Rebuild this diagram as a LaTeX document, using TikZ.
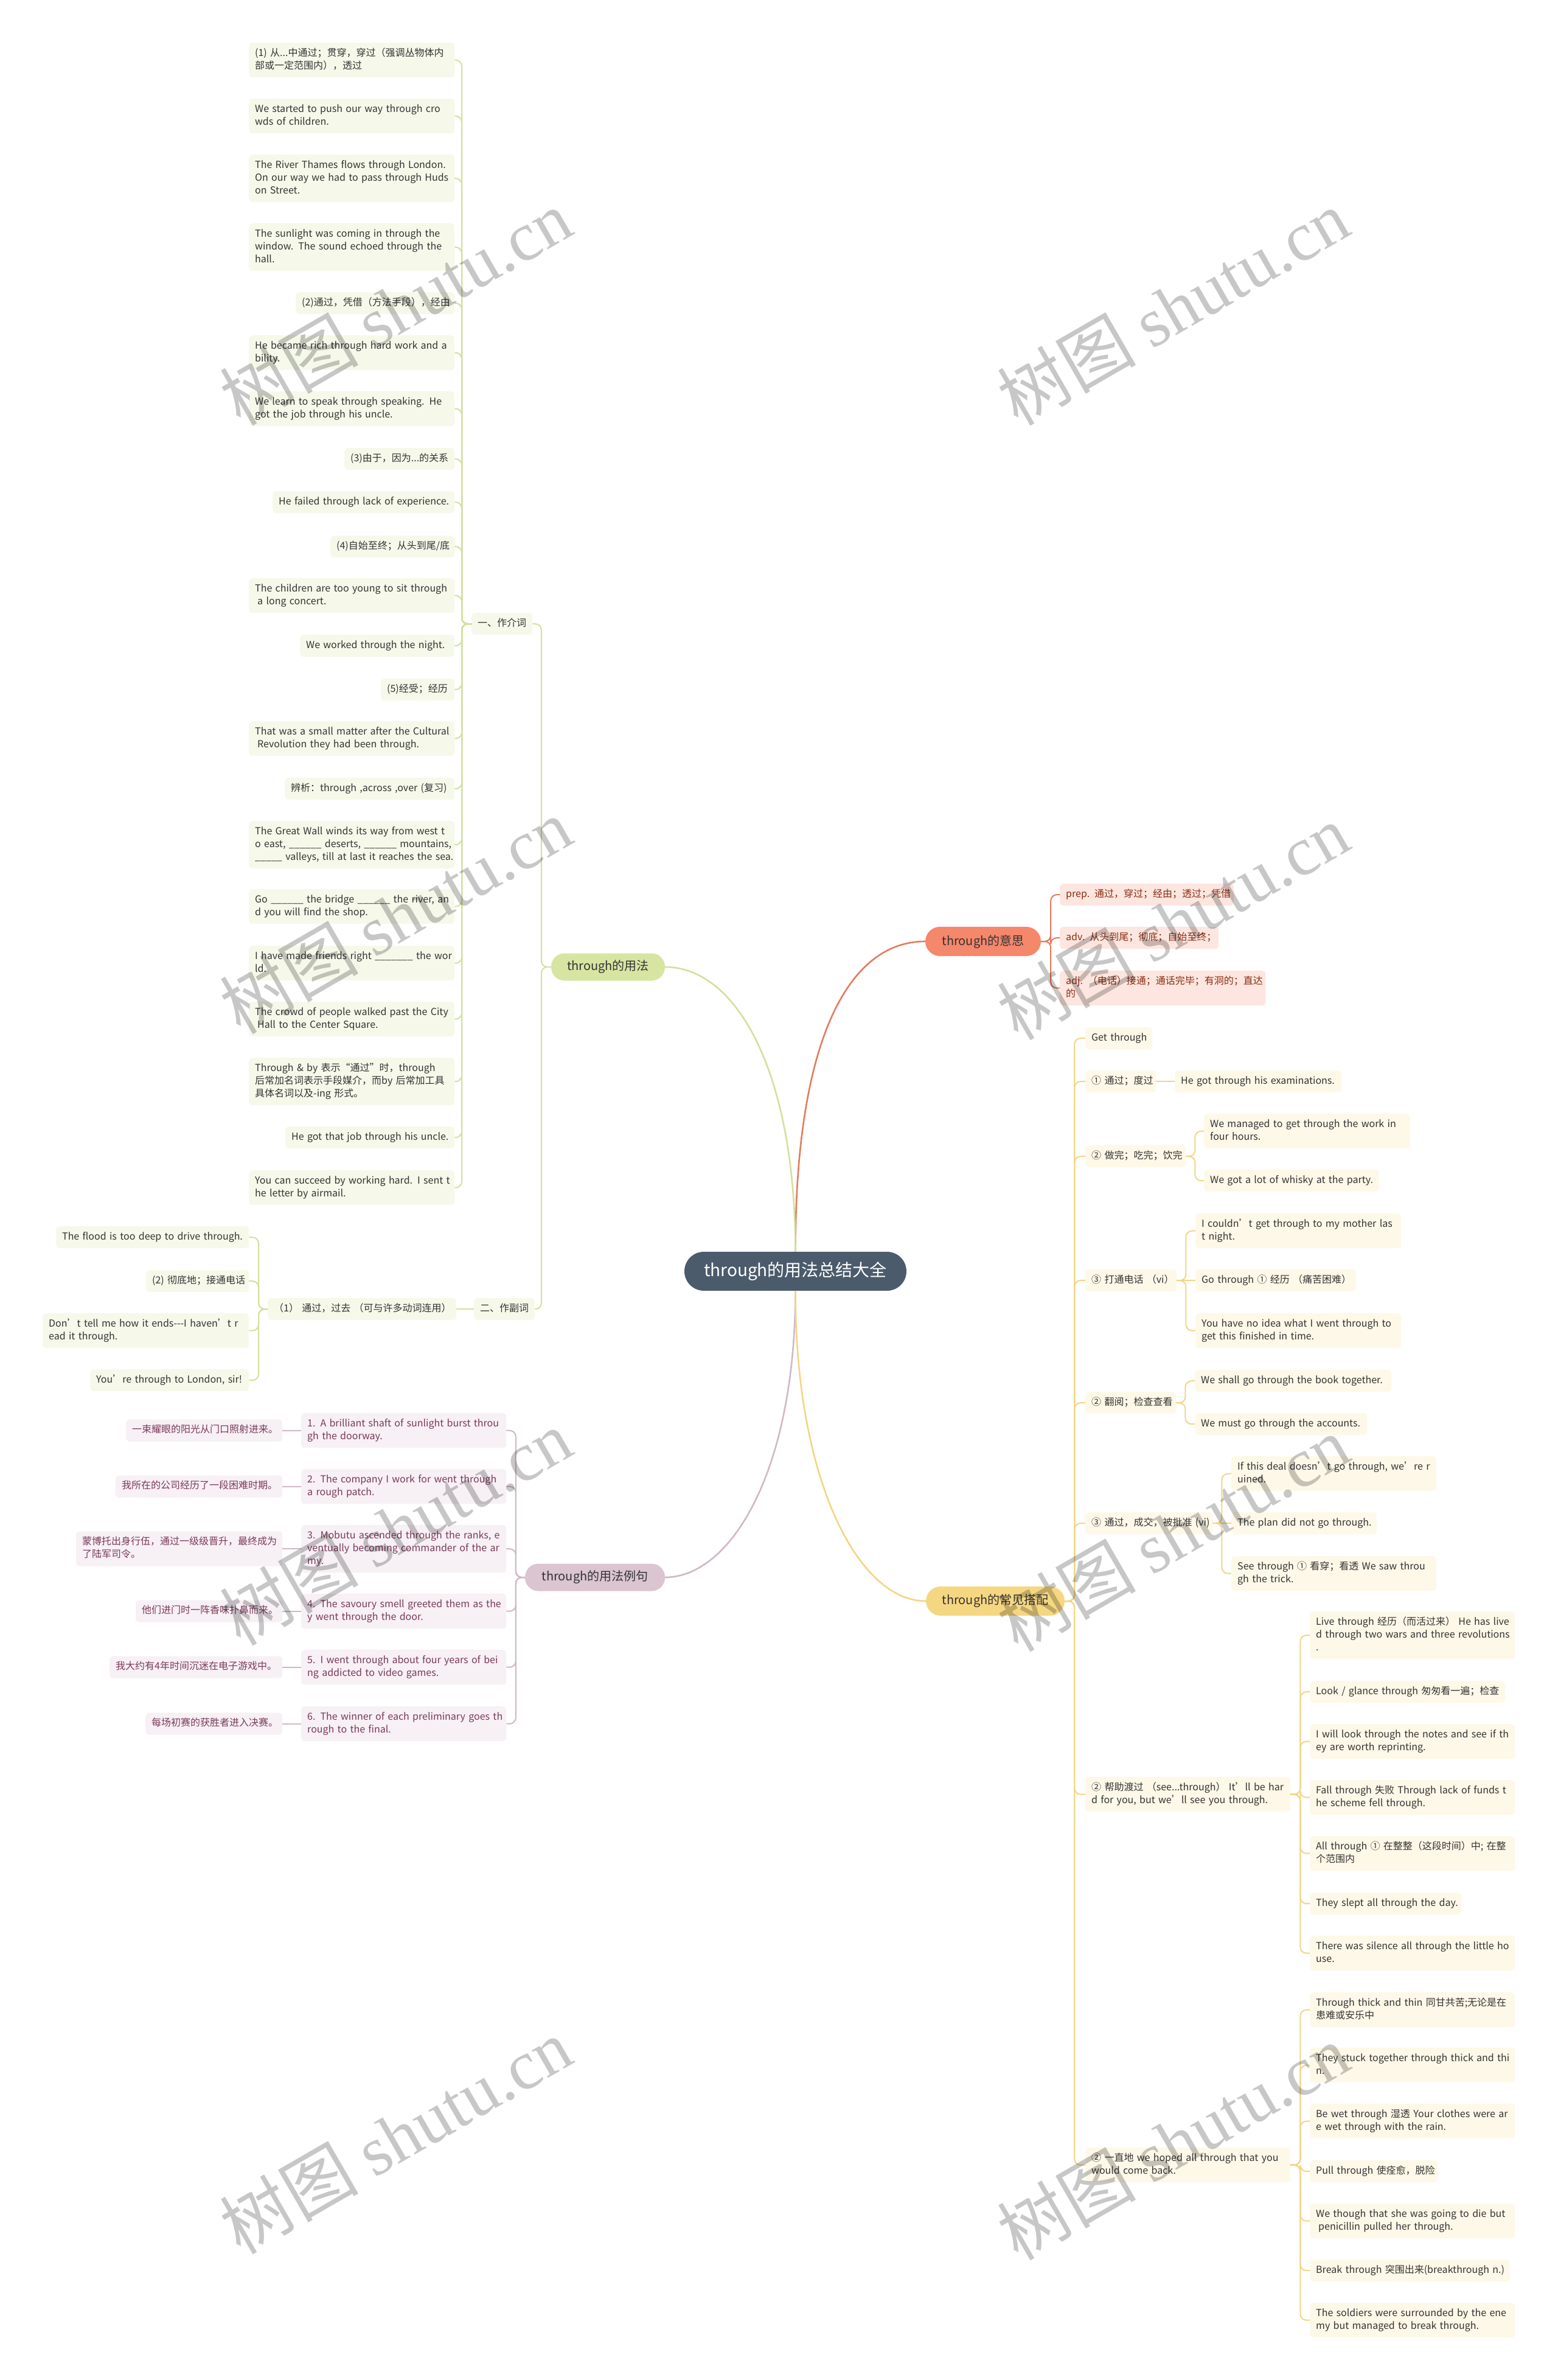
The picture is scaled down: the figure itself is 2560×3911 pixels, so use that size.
\documentclass[tikz,border=0pt]{standalone}
\usepackage{fontspec}
\setmainfont{Noto Sans CJK SC}
\newfontfamily\wmserif{Liberation Serif}
\usetikzlibrary{calc}
\definecolor{rootc}{HTML}{4B5B6B}
\definecolor{ora}{HTML}{F5876B}
\definecolor{oral}{HTML}{E47B5E}
\definecolor{orab}{HTML}{FDE6DF}
\definecolor{orat}{HTML}{8A2C12}
\definecolor{grn}{HTML}{D7E5A3}
\definecolor{grnl}{HTML}{D1E19C}
\definecolor{grnb}{HTML}{F6F9EA}
\definecolor{pur}{HTML}{DAC5D1}
\definecolor{purl}{HTML}{D0B8C6}
\definecolor{purb}{HTML}{F7F0F4}
\definecolor{purt}{HTML}{7A3A5C}
\definecolor{gld}{HTML}{F6D781}
\definecolor{gldl}{HTML}{F3D584}
\definecolor{gldb}{HTML}{FEF8E8}
\definecolor{txt}{HTML}{333333}
\newcommand{\tlines}[1]{\begin{tabular}{@{}l@{}}#1\end{tabular}}
\newcommand{\fs}{\fontsize{16}{21}\selectfont}
\newcommand{\lf}[6]{\node[#1,bw=#4,ln#5] (#2) at (#3) {\tlines{#6}};}
\begin{document}
\begin{tikzpicture}[x=1pt,y=-1pt,
  leaf/.style={rectangle,rounded corners=6pt,inner xsep=10pt,inner ysep=0pt,align=left,anchor=north west,font=\fs},
  bw/.code={\pgfmathsetmacro\bwtmp{#1-20}\tikzset{minimum width=#1pt,text width=\bwtmp pt}},
  ln1/.style={minimum height=36pt},
  ln2/.style={minimum height=57pt},
  ln3/.style={minimum height=78pt},
  gleaf/.style={leaf,fill=grnb,text=txt},
  oleaf/.style={leaf,fill=orab,text=orat},
  pleaf/.style={leaf,fill=purb,text=purt},
  yleaf/.style={leaf,fill=gldb,text=txt},
  br/.style={rectangle,inner sep=0pt,text=txt,font=\fontsize{20}{22}\selectfont},
  root/.style={rectangle,fill=rootc,text=white,rounded corners=32pt,minimum width=365pt,minimum height=64pt,inner sep=0pt,font=\fontsize{28}{30}\selectfont},
  oc/.style={draw=oral,line width=2pt,rounded corners=10pt},
  gc/.style={draw=grnl,line width=2pt,rounded corners=10pt},
  pc/.style={draw=purl,line width=2pt,rounded corners=10pt},
  yc/.style={draw=gldl,line width=2pt,rounded corners=10pt},
  mainline/.style={line width=2.6pt},
  wm/.style={rotate=30,text=black,text opacity=0.22,font=\fontsize{114}{114}\selectfont}
]
\fill[white] (0,0) rectangle (2560,3911);
\useasboundingbox (0,0) rectangle (2560,3911);

% central and branch nodes
\node[root] (root) at (1307.5,2089) {through的用法总结大全};
\node[br,fill=ora,minimum width=190pt,minimum height=48pt,rounded corners=24pt] (ys) at (1616,1547) {through的意思};
\node[br,fill=grn,minimum width=187pt,minimum height=45pt,rounded corners=22pt] (yf) at (999.5,1589) {through的用法};
\node[br,fill=pur,minimum width=230pt,minimum height=45pt,rounded corners=22pt] (lj) at (978,2592) {through的用法例句};
\node[br,fill=gld,minimum width=228pt,minimum height=48pt,rounded corners=24pt] (dp) at (1636,2631) {through的常见搭配};

% meaning
\lf{oleaf}{m1}{1742,1452}{286}{1}{prep. 通过，穿过；经由；透过；凭借}
\lf{oleaf}{m2}{1742,1523}{261}{1}{adv. 从头到尾；彻底；自始至终；}
\lf{oleaf}{m3}{1742,1595}{338}{2}{adj. （电话）接通；通话完毕；有洞的；直达\\的}

% usage: preposition
\lf{gleaf}{jc}{775,1007}{100}{1}{一、作介词}
\lf{gleaf}{j1}{409,70}{338}{2}{(1) 从...中通过；贯穿，穿过（强调丛物体内\\部或一定范围内），透过}
\lf{gleaf}{j2}{409,162}{338}{2}{We started to push our way through cro\\wds of children.}
\lf{gleaf}{j3}{409,254}{338}{3}{The River Thames flows through London.\\On our way we had to pass through Huds\\on Street.}
\lf{gleaf}{j4}{409,367}{338}{3}{The sunlight was coming in through the\\window. The sound echoed through the\\hall.}
\lf{gleaf}{j5}{486,480}{261}{1}{(2)通过，凭借（方法手段），经由}
\lf{gleaf}{j6}{409,551}{338}{2}{He became rich through hard work and a\\bility.}
\lf{gleaf}{j7}{409,643}{338}{2}{We learn to speak through speaking. He\\got the job through his uncle.}
\lf{gleaf}{j8}{566,736}{181}{1}{(3)由于，因为...的关系}
\lf{gleaf}{j9}{448,807}{299}{1}{He failed through lack of experience.}
\lf{gleaf}{j10}{543,880}{204}{1}{(4)自始至终；从头到尾/底}
\lf{gleaf}{j11}{409,950}{338}{2}{The children are too young to sit through\\\hspace{4pt}a long concert.}
\lf{gleaf}{j12}{493,1043}{254}{1}{We worked through the night.}
\lf{gleaf}{j13}{626,1115}{121}{1}{(5)经受；经历}
\lf{gleaf}{j14}{409,1185}{338}{2}{That was a small matter after the Cultural\\\hspace{4pt}Revolution they had been through.}
\lf{gleaf}{j15}{468,1278}{279}{1}{辨析：through ,across ,over (复习)}
\lf{gleaf}{j16}{409,1349}{338}{3}{The Great Wall winds its way from west t\\o east, \_\_\_\_\_\_ deserts, \_\_\_\_\_\_ mountains,\\\_\_\_\_\_ valleys, till at last it reaches the sea.}
\lf{gleaf}{j17}{409,1461}{338}{2}{Go \_\_\_\_\_\_ the bridge \_\_\_\_\_\_ the river, an\\d you will find the shop.}
\lf{gleaf}{j18}{409,1554}{338}{2}{I have made friends right \_\_\_\_\_\_\_ the wor\\ld.}
\lf{gleaf}{j19}{409,1646}{338}{2}{The crowd of people walked past the City\\\hspace{4pt}Hall to the Center Square.}
\lf{gleaf}{j20}{409,1738}{338}{3}{Through \& by 表示“通过”时，through\\后常加名词表示手段媒介，而by 后常加工具\\具体名词以及-ing 形式。}
\lf{gleaf}{j21}{469,1851}{278}{1}{He got that job through his uncle.}
\lf{gleaf}{j22}{409,1923}{338}{2}{You can succeed by working hard. I sent t\\he letter by airmail.}

% usage: adverb
\lf{gleaf}{fc}{779,2133}{100}{1}{二、作副词}
\lf{gleaf}{f1}{440,2133}{310}{1}{（1） 通过，过去 （可与许多动词连用）}
\lf{gleaf}{fa}{92,2015}{317}{1}{The flood is too deep to drive through.}
\lf{gleaf}{fb}{240,2087}{169}{1}{(2) 彻底地；接通电话}
\lf{gleaf}{fx}{70,2158}{339}{2}{Don’t tell me how it ends-{}-{}-I haven’t r\\ead it through.}
\lf{gleaf}{fd}{148,2250}{261}{1}{You’re through to London, sir!}

% examples
\lf{pleaf}{e1}{495,2322}{337}{2}{1. A brilliant shaft of sunlight burst throu\\gh the doorway.}
\lf{pleaf}{e2}{495,2414}{337}{2}{2. The company I work for went through\\a rough patch.}
\lf{pleaf}{e3}{495,2506}{337}{3}{3. Mobutu ascended through the ranks, e\\ventually becoming commander of the ar\\my.}
\lf{pleaf}{e4}{495,2619}{337}{2}{4. The savoury smell greeted them as the\\y went through the door.}
\lf{pleaf}{e5}{495,2711}{337}{2}{5. I went through about four years of bei\\ng addicted to video games.}
\lf{pleaf}{e6}{495,2804}{337}{2}{6. The winner of each preliminary goes th\\rough to the final.}
\lf{pleaf}{z1}{207,2332.5}{257}{1}{一束耀眼的阳光从门口照射进来。}
\lf{pleaf}{z2}{190,2424.5}{274}{1}{我所在的公司经历了一段困难时期。}
\lf{pleaf}{z3}{125,2516.5}{339}{2}{蒙博托出身行伍，通过一级级晋升，最终成为\\了陆军司令。}
\lf{pleaf}{z4}{223,2629.5}{241}{1}{他们进门时一阵香味扑鼻而来。}
\lf{pleaf}{z5}{180,2721.5}{284}{1}{我大约有4年时间沉迷在电子游戏中。}
\lf{pleaf}{z6}{239,2814.5}{225}{1}{每场初赛的获胜者进入决赛。}

% collocations
\lf{yleaf}{g0}{1784,1688}{110}{1}{Get through}
\lf{yleaf}{g1}{1784,1759}{116}{1}{① 通过；度过}
\lf{yleaf}{g1a}{1931,1759}{274}{1}{He got through his examinations.}
\lf{yleaf}{g2}{1784,1882}{165}{1}{② 做完；吃完；饮完}
\lf{yleaf}{g2a}{1979,1830}{339}{2}{We managed to get through the work in\\four hours.}
\lf{yleaf}{g2b}{1979,1922}{288}{1}{We got a lot of whisky at the party.}
\lf{yleaf}{g3}{1784,2086}{150}{1}{③ 打通电话 （vi）}
\lf{yleaf}{g3a}{1965,1994}{338}{2}{I couldn’t get through to my mother las\\t night.}
\lf{yleaf}{g3b}{1965,2086}{264}{1}{Go through ① 经历 （痛苦困难）}
\lf{yleaf}{g3c}{1965,2158}{338}{2}{You have no idea what I went through to\\get this finished in time.}
\lf{yleaf}{g4}{1784,2287}{149}{1}{② 翻阅；检查查看}
\lf{yleaf}{g4a}{1964,2251}{323}{1}{We shall go through the book together.}
\lf{yleaf}{g4b}{1964,2322}{283}{1}{We must go through the accounts.}
\lf{yleaf}{g5}{1784,2485}{209}{1}{③ 通过，成交，被批准 (vi)}
\lf{yleaf}{g5a}{2024,2393}{337}{2}{If this deal doesn’t go through, we’re r\\uined.}
\lf{yleaf}{g5b}{2024,2485}{239}{1}{The plan did not go through.}
\lf{yleaf}{g5c}{2024,2557}{337}{2}{See through ① 看穿；看透 We saw throu\\gh the trick.}
\lf{yleaf}{g6}{1784,2920}{337}{2}{② 帮助渡过 （see...through） It’ll be har\\d for you, but we’ll see you through.}
\lf{yleaf}{g6a}{2153,2648}{337}{3}{Live through 经历（而活过来） He has live\\d through two wars and three revolutions\\.}
\lf{yleaf}{g6b}{2153,2762}{321}{1}{Look / glance through 匆匆看一遍；检查}
\lf{yleaf}{g6c}{2153,2833}{337}{2}{I will look through the notes and see if th\\ey are worth reprinting.}
\lf{yleaf}{g6d}{2153,2925}{337}{2}{Fall through 失败 Through lack of funds t\\he scheme fell through.}
\lf{yleaf}{g6e}{2153,3017}{337}{2}{All through ① 在整整（这段时间）中; 在整\\个范围内}
\lf{yleaf}{g6f}{2153,3110}{249}{1}{They slept all through the day.}
\lf{yleaf}{g6g}{2153,3181}{337}{2}{There was silence all through the little ho\\use.}
\lf{yleaf}{g7}{1784,3529}{337}{2}{② 一直地 we hoped all through that you\\would come back.}
\lf{yleaf}{g7a}{2153,3274}{337}{2}{Through thick and thin 同甘共苦;无论是在\\患难或安乐中}
\lf{yleaf}{g7b}{2153,3365}{337}{2}{They stuck together through thick and thi\\n.}
\lf{yleaf}{g7c}{2153,3457}{337}{2}{Be wet through 湿透 Your clothes were ar\\e wet through with the rain.}
\lf{yleaf}{g7d}{2153,3550}{210}{1}{Pull through 使痊愈，脱险}
\lf{yleaf}{g7e}{2153,3621}{337}{2}{We though that she was going to die but\\\hspace{4pt}penicillin pulled her through.}
\lf{yleaf}{g7f}{2153,3713}{329}{1}{Break through 突围出来(breakthrough n.)}
\lf{yleaf}{g7g}{2153,3784}{337}{2}{The soldiers were surrounded by the ene\\my but managed to break through.}

% main connectors
\draw[mainline,draw=oral] (root.north) .. controls (1307,1720) and (1390,1547) .. (ys.west);
\draw[mainline,draw=grnl] (root.north) .. controls (1307,1760) and (1210,1589) .. (yf.east);
\draw[mainline,draw=purl] (root.south) .. controls (1307,2420) and (1200,2592) .. (lj.east);
\draw[mainline,draw=gldl] (root.south) .. controls (1307,2430) and (1410,2631) .. (dp.west);

% meaning connectors
\foreach \c in {m1,m2,m3} \draw[oc] (ys.east) -- ++(16,0) |- (\c.west);

% usage connectors
\draw[gc] (yf.west) -- ++(-16,0) |- (jc.east);
\draw[gc] (yf.west) -- ++(-16,0) |- (fc.east);
\foreach \i in {1,...,22} \draw[gc] (jc.west) -- ++(-16,0) |- (j\i.east);
\draw[gc] (fc.west) -- (f1.east);
\foreach \c in {fa,fb,fx,fd} \draw[gc] (f1.west) -- ++(-15,0) |- (\c.east);

% example connectors
\foreach \i in {1,...,6} {
  \draw[pc] (lj.west) -- ++(-15,0) |- (e\i.east);
  \draw[pc] (e\i.west) -- (z\i.east);
}

% collocation connectors
\foreach \c in {g0,g1,g2,g3,g4,g5,g6,g7} \draw[yc] (dp.east) -- ++(16,0) |- (\c.west);
\draw[yc] (g1.east) -- (g1a.west);
\foreach \c in {g2a,g2b} \draw[yc] (g2.east) -- ++(15,0) |- (\c.west);
\foreach \c in {g3a,g3c} \draw[yc] (g3.east) -- ++(15,0) |- (\c.west);
\draw[yc] (g3.east) -- (g3b.west);
\foreach \c in {g4a,g4b} \draw[yc] (g4.east) -- ++(15,0) |- (\c.west);
\foreach \c in {g5a,g5c} \draw[yc] (g5.east) -- ++(15,0) |- (\c.west);
\draw[yc] (g5.east) -- (g5b.west);
\foreach \c in {g6a,g6b,g6c,g6d,g6e,g6f,g6g} \draw[yc] (g6.east) -- ++(16,0) |- (\c.west);
\foreach \c in {g7a,g7b,g7c,g7d,g7e,g7f,g7g} \draw[yc] (g7.east) -- ++(16,0) |- (\c.west);

% watermarks
\foreach \x/\y [count=\k] in {650/505,1928/505,650/1505,1928/1515,650/2510,1928/2520,650/3510,1928/3520}
  \node[wm] (wm\k) at (\x,\y) {树图 {\wmserif shutu.cn}};
\end{tikzpicture}
\end{document}
